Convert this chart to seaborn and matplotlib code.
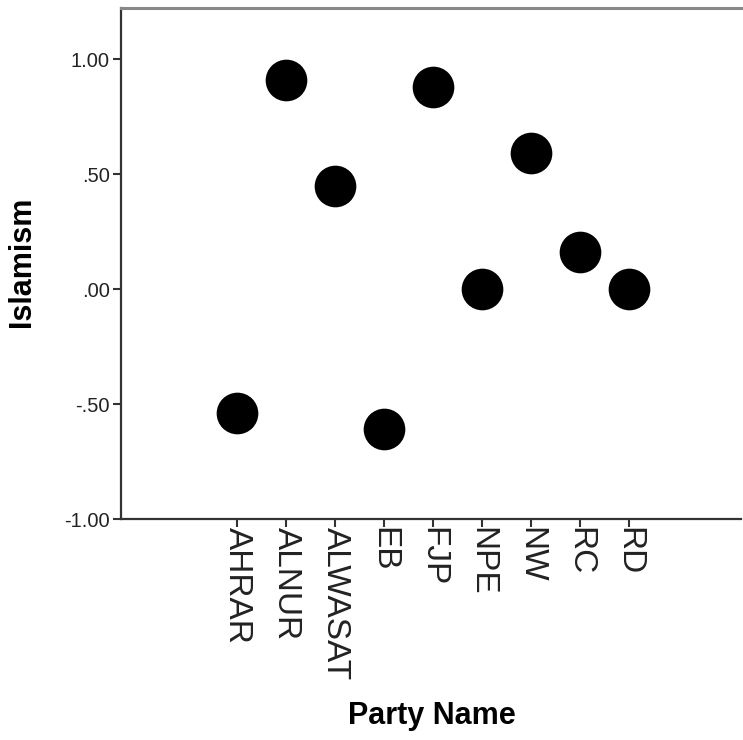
import matplotlib
matplotlib.use("Agg")
import matplotlib.pyplot as plt
import seaborn as sns
import pandas as pd

# data
parties = ["AHRAR", "ALNUR", "ALWASAT", "EB", "FJP", "NPE", "NW", "RC", "RD"]
islamism = [-0.54, 0.91, 0.45, -0.61, 0.88, 0.00, 0.59, 0.16, 0.00]
yticks = [-1.0, -0.5, 0.0, 0.5, 1.0]
ytick_labels = ["-1.00", "-.50", ".00", ".50", "1.00"]

df = pd.DataFrame({"Party Name": parties, "Islamism": islamism})

sns.set_style("white")
plt.rcParams["font.family"] = ["Liberation Sans", "DejaVu Sans"]

fig = plt.figure(figsize=(7.43, 7.40), dpi=100)
ax = fig.add_axes([0.163, 0.2986, 0.834, 0.6906])

sns.scatterplot(data=df, x="Party Name", y="Islamism", ax=ax,
                s=900, color="black", edgecolor="black", linewidth=0)

ax.set_xlim(-2.37, 10.29)
ax.set_ylim(-1.0, 1.222)
ax.set_yticks(yticks)
ax.set_yticklabels(ytick_labels, fontsize=14.5, color="#222222")
ax.set_xticks(range(len(parties)))
ax.set_xticklabels(parties, rotation=-90, fontsize=24, va="top", ha="center",
                   color="#222222")

ax.tick_params(axis="y", left=True, direction="out", length=6, width=1.5,
               color="#333333", pad=2)
ax.tick_params(axis="x", bottom=True, direction="out", length=6, width=1.5,
               color="#333333", pad=0)

for side in ["left", "bottom"]:
    ax.spines[side].set_color("#333333")
    ax.spines[side].set_linewidth(1.6)
ax.spines["top"].set_color("#888888")
ax.spines["top"].set_linewidth(2.2)
ax.spines["right"].set_visible(False)

ax.set_xlabel("Party Name", fontsize=22, fontweight="bold", color="black")
ax.set_ylabel("Islamism", fontsize=22, fontweight="bold", color="black")
ax.xaxis.set_label_coords((431 - 121) / 619, -(716 - 519) / 511)
ax.yaxis.set_label_coords(-(121 - 22) / 619, (519 - 262) / 511)
ax.xaxis.label.set_va("center")
ax.yaxis.label.set_va("center")

fig.savefig("out.png", dpi=100)
